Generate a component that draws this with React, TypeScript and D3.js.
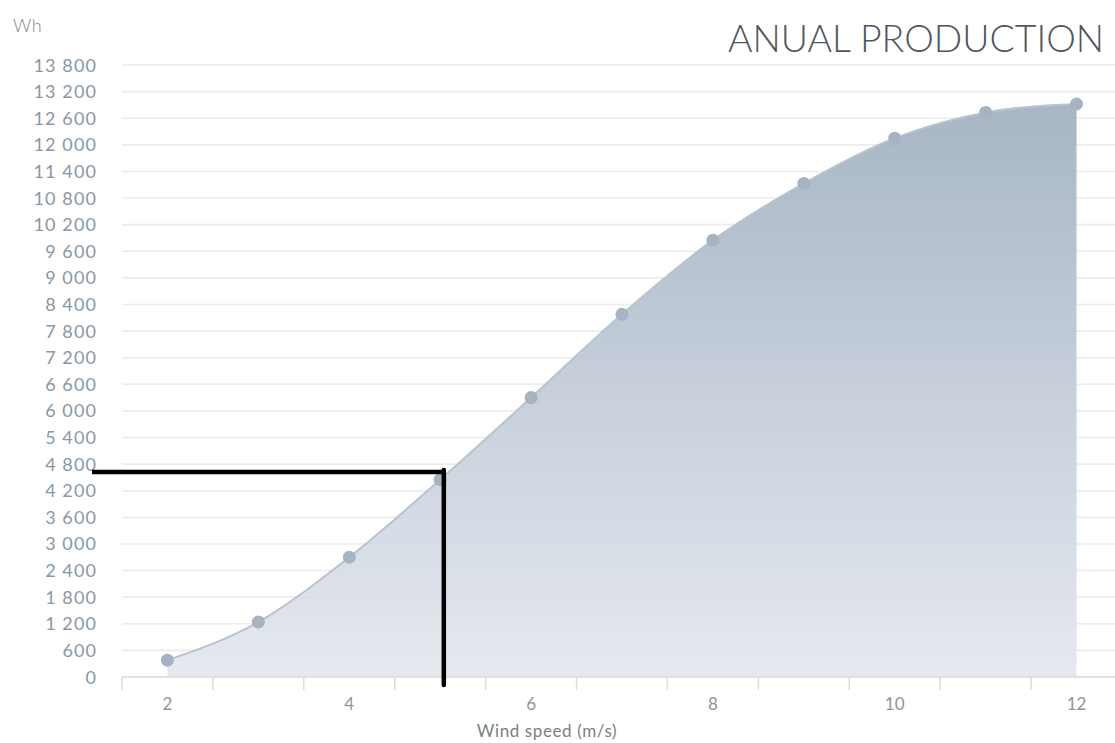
import React from "react";
import * as d3 from "d3";

// Wind speed categories (m/s) and annual energy output (Wh)
const windSpeeds = [2, 3, 4, 5, 6, 7, 8, 9, 10, 11, 12];
const production = [380, 1240, 2700, 4450, 6300, 8180, 9850, 11130, 12150, 12730, 12920];
const yTicks = [0, 600, 1200, 1800, 2400, 3000, 3600, 4200, 4800, 5400, 6000, 6600, 7200, 7800, 8400, 9000, 9600, 10200, 10800, 11400, 12000, 12600, 13200, 13800];
const xLabelSpeeds = [2, 4, 6, 8, 10, 12];

// Reference guide drawn over the chart (speed, energy)
const guideSpeed = 5.04;
const guideEnergy = 4620;

const W = 1115;
const H = 743;

const fmt = (v: number) => d3.format(",")(v).replace(/,/g, " ");

export default function App() {
  const x = d3.scaleLinear().domain([1.5, 12.5]).range([122, 1122]);
  const y = d3.scaleLinear().domain([0, 13800]).range([677, 65]);
  const bandEdges = d3.range(1.5, 12.6, 1);

  const pts = windSpeeds.map((s, i) => [s, production[i]] as [number, number]);
  const area = d3
    .area<[number, number]>()
    .x((d) => x(d[0]))
    .y0(y(0))
    .y1((d) => y(d[1]))
    .curve(d3.curveMonotoneX);
  const line = d3
    .line<[number, number]>()
    .x((d) => x(d[0]))
    .y((d) => y(d[1]))
    .curve(d3.curveMonotoneX);

  const labelFont = "Lato, 'Open Sans', sans-serif";

  return (
    <svg
      width={W}
      height={H}
      style={{ position: "absolute", left: 0, top: 0, background: "#fff" }}
    >
      <defs>
        <linearGradient id="fillGrad" x1="0" y1={y(13000)} x2="0" y2={y(0)} gradientUnits="userSpaceOnUse">
          <stop offset="0" stopColor="#9dadbf" />
          <stop offset="1" stopColor="#e3e7ee" />
        </linearGradient>
      </defs>

      {/* grid */}
      {yTicks.map((t) => (
        <line key={t} x1={122} x2={W} y1={y(t)} y2={y(t)} stroke="#ececec" strokeWidth={1.6} />
      ))}

      {/* area + line */}
      <path d={area(pts) ?? ""} fill="url(#fillGrad)" opacity={0.9} />
      <path d={line(pts) ?? ""} fill="none" stroke="#b9c3cd" strokeWidth={2} />
      {pts.map((p) => (
        <circle key={p[0]} cx={x(p[0])} cy={y(p[1])} r={6.5} fill="#a5b3c2" />
      ))}

      {/* x axis */}
      <line x1={122} x2={W} y1={y(0)} y2={y(0)} stroke="#dcdcdc" strokeWidth={1.5} />
      {bandEdges.map((e) => (
        <line key={e} x1={x(e)} x2={x(e)} y1={y(0)} y2={y(0) + 13} stroke="#dcdcdc" strokeWidth={1.5} />
      ))}
      {xLabelSpeeds.map((s) => (
        <text key={s} x={x(s)} y={710} textAnchor="middle" fontFamily={labelFont} fontSize={17} fill="#8f959c">
          {s}
        </text>
      ))}
      <text x={547} y={737} textAnchor="middle" fontFamily={labelFont} fontSize={17} fill="#7b7f84" letterSpacing={0.6}>
        Wind speed (m/s)
      </text>

      {/* y axis labels */}
      {yTicks.map((t) => (
        <text key={t} x={97} y={y(t) + 6.5} textAnchor="end" fontFamily={labelFont} fontSize={18} fill="#8a97a4" letterSpacing={1.1}>
          {fmt(t)}
        </text>
      ))}
      <text x={13} y={32} fontFamily={labelFont} fontWeight={300} fontSize={18} fill="#858585" letterSpacing={0.5}>
        Wh
      </text>

      {/* title */}
      <text x={728} y={52} textLength={376} lengthAdjust="spacingAndGlyphs" fontFamily={labelFont} fontWeight={300} fontSize={37} fill="#50565c">
        ANUAL PRODUCTION
      </text>

      {/* guide lines */}
      <line x1={92} x2={x(guideSpeed) + 2} y1={y(guideEnergy)} y2={y(guideEnergy)} stroke="#000" strokeWidth={4.5} />
      <line x1={x(guideSpeed)} x2={x(guideSpeed)} y1={y(guideEnergy) - 2} y2={685} stroke="#000" strokeWidth={4.5} strokeLinecap="round" />
    </svg>
  );
}
